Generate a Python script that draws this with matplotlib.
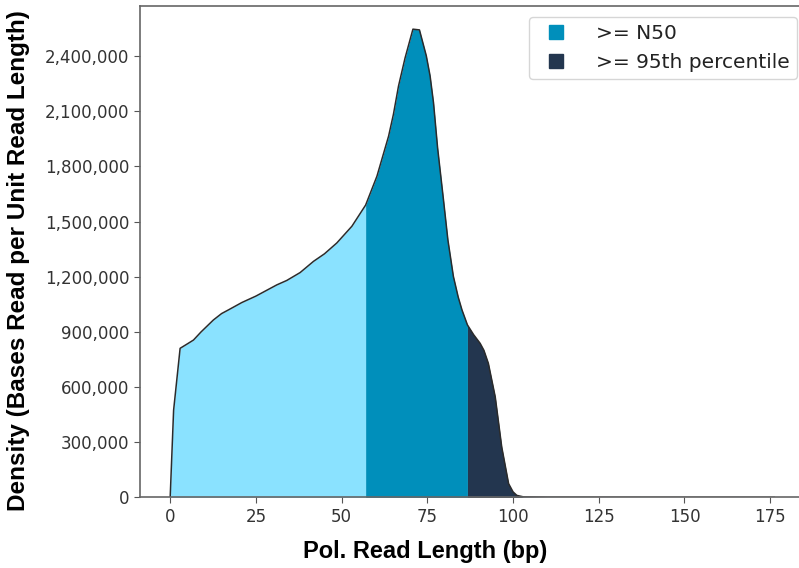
import matplotlib.pyplot as plt
import numpy as np
from matplotlib.lines import Line2D
from matplotlib.ticker import FuncFormatter

# read length (bp) and density
read_len = [0, 1.0, 2.9, 5, 6.8, 9, 12.6, 15, 17, 20.9, 25, 28, 31.1, 34, 37.9,
            41.8, 45, 48.6, 53, 57, 60.3, 63.7, 65.1, 66.6, 68.5, 70.8, 72.7,
            74.7, 75.8, 76.8, 78, 79.7, 81, 82.6, 84, 85.1, 86.7, 88.5, 90.4,
            91.5, 92.8, 94.8, 96.7, 98.7, 100, 101.1, 103, 110, 130, 150, 176.2]
density = [0, 474e3, 811e3, 835e3, 856e3, 900e3, 965e3, 1000e3, 1020e3, 1060e3,
           1095e3, 1125e3, 1156e3, 1180e3, 1223e3, 1284e3, 1325e3, 1384e3,
           1475e3, 1590e3, 1747e3, 1965e3, 2083e3, 2238e3, 2390e3, 2547e3,
           2543e3, 2402e3, 2293e3, 2147e3, 1900e3, 1620e3, 1400e3, 1202e3,
           1090e3, 1020e3, 938e3, 885e3, 838e3, 800e3, 729e3, 547e3, 274e3,
           75e3, 30e3, 11e3, 3e3, 1e3, 500, 200, 0]

n50 = 57.0
p95 = 86.7

c_light = '#8ae2ff'
c_n50 = '#008fbb'
c_p95 = '#23364f'

x = np.array(read_len)
y = np.array(density)

fig = plt.figure(figsize=(7.99, 5.68), dpi=100)
ax = fig.add_axes([140 / 799, 1 - 497.4 / 568, 664.5 / 799, (497.4 - 6) / 568])

ax.fill_between(x, y, where=x <= n50, color=c_light, lw=0)
ax.fill_between(x, y, where=(x >= n50) & (x <= p95), color=c_n50, lw=0)
ax.fill_between(x, y, where=x >= p95, color=c_p95, lw=0)
ax.plot(x, y, color='#2b2b2b', lw=1.1)

ax.set_xlim(-8.8, 185)
ax.set_ylim(0, 2673000)
ax.set_xticks(np.arange(0, 176, 25))
ax.set_yticks(np.arange(0, 2400001, 300000))
ax.yaxis.set_major_formatter(FuncFormatter(lambda v, p: f'{int(v):,}'))
ax.tick_params(colors='#555555', labelcolor='#333333', labelsize=12, length=4)
for s in ax.spines.values():
    s.set_color('#666666')
    s.set_linewidth(1.2)

ax.set_xlabel('Pol. Read Length (bp)', family='Liberation Sans', weight='bold',
              fontsize=17)
ax.xaxis.set_label_coords(0.429, -0.087)
ax.set_ylabel('Density (Bases Read per Unit Read Length)', family='Liberation Sans',
              weight='bold', fontsize=17.5)
ax.yaxis.set_label_coords(-0.166, 0.481)

handles = [Line2D([], [], marker='s', ls='none', ms=10, color=c_n50),
           Line2D([], [], marker='s', ls='none', ms=10, color=c_p95)]
leg = ax.legend(handles, ['>= N50', '>= 95th percentile'], loc='upper right',
                bbox_to_anchor=(797 / 799, 1 - 17 / 568),
                bbox_transform=fig.transFigure, borderaxespad=0,
                fontsize=14.5, labelspacing=0.5, handletextpad=1.0,
                borderpad=0.35, edgecolor='#cccccc', labelcolor='#222222')

fig.savefig('out.png', dpi=100)
